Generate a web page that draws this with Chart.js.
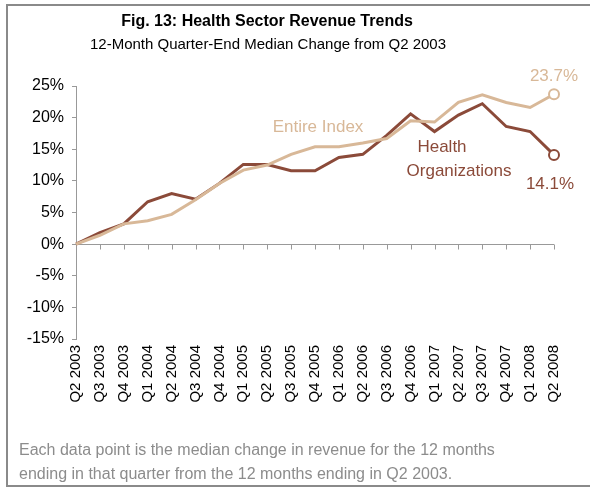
<!DOCTYPE html>
<html>
<head>
<meta charset="utf-8">
<script src="https://cdn.jsdelivr.net/npm/chart.js@4"></script>
<style>
  html, body { margin: 0; padding: 0; background: #fff; }
  #wrap { width: 590px; height: 487px; position: relative; }
</style>
</head>
<body>
<div id="wrap"><canvas id="chart"></canvas></div>
<script>
const quarters = ["Q2 2003", "Q3 2003", "Q4 2003", "Q1 2004", "Q2 2004", "Q3 2004", "Q4 2004",
  "Q1 2005", "Q2 2005", "Q3 2005", "Q4 2005", "Q1 2006", "Q2 2006", "Q3 2006", "Q4 2006",
  "Q1 2007", "Q2 2007", "Q3 2007", "Q4 2007", "Q1 2008", "Q2 2008"];
const healthOrgs = [0, 1.8, 3.2, 6.7, 8.0, 7.1, 9.6, 12.6, 12.6, 11.6, 11.6, 13.7, 14.2, 17.2, 20.6, 17.8, 20.4, 22.2, 18.6, 17.8, 14.1];
const entireIndex = [0, 1.4, 3.2, 3.7, 4.7, 7.0, 9.6, 11.7, 12.5, 14.2, 15.4, 15.4, 16.0, 16.7, 19.5, 19.3, 22.4, 23.6, 22.4, 21.6, 23.7];
const yTicks = [-15, -10, -5, 0, 5, 10, 15, 20, 25];

const brown = "#8b4a39";
const tan = "#d8b898";
const axisGray = "#999999";
const font = "'Liberation Sans', Arial, sans-serif";

function endPoints(arr) {
  return arr.map((v, i) => i === arr.length - 1 ? 5 : 0);
}

const decor = {
  id: "decor",
  beforeDraw(chart) {
    const ctx = chart.ctx;
    ctx.save();
    ctx.fillStyle = "#fff";
    ctx.fillRect(0, 0, chart.width, chart.height);
    ctx.strokeStyle = "#8a8a8a";
    ctx.lineWidth = 2;
    ctx.beginPath();
    ctx.moveTo(7, 487);
    ctx.lineTo(7, 5);
    ctx.lineTo(590, 5);
    ctx.moveTo(7, 486);
    ctx.lineTo(590, 486);
    ctx.stroke();

    ctx.fillStyle = "#000";
    ctx.textAlign = "center";
    ctx.textBaseline = "middle";
    ctx.font = "bold 16px " + font;
    ctx.fillText("Fig. 13: Health Sector Revenue Trends", 267, 22);
    ctx.font = "15px " + font;
    ctx.fillText("12-Month Quarter-End Median Change from Q2 2003", 268, 45);

    ctx.fillStyle = "#8c8c8c";
    ctx.textAlign = "left";
    ctx.font = "16px " + font;
    ctx.fillText("Each data point is the median change in revenue for the 12 months", 19, 451);
    ctx.fillText("ending in that quarter from the 12 months ending in Q2 2003.", 19, 475);
    ctx.restore();
  },
  beforeDatasetsDraw(chart) {
    const ctx = chart.ctx;
    const x = chart.scales.x, y = chart.scales.y;
    const y0 = Math.round(y.getPixelForValue(0)) + 0.5;
    ctx.save();
    ctx.strokeStyle = axisGray;
    ctx.lineWidth = 1;
    ctx.beginPath();
    ctx.moveTo(chart.chartArea.left, y0);
    ctx.lineTo(x.getPixelForValue(quarters.length - 1), y0);
    quarters.forEach((q, i) => {
      const px = Math.round(x.getPixelForValue(i)) + 0.5;
      ctx.moveTo(px, y0);
      ctx.lineTo(px, y0 + 5);
    });
    ctx.stroke();
    ctx.restore();
  },
  afterDatasetsDraw(chart) {
    const ctx = chart.ctx;
    const x = chart.scales.x, y = chart.scales.y;
    const last = quarters.length - 1;
    ctx.save();
    ctx.font = "17px " + font;
    ctx.textBaseline = "middle";
    ctx.textAlign = "center";
    ctx.fillStyle = tan;
    ctx.fillText("Entire Index", 318, 127);
    ctx.fillText(entireIndex[last].toFixed(1) + "%", x.getPixelForValue(last), y.getPixelForValue(entireIndex[last]) - 18);
    ctx.fillStyle = brown;
    ctx.fillText("Health", 442, 147);
    ctx.fillText("Organizations", 459, 171);
    ctx.fillText(healthOrgs[last].toFixed(1) + "%", 550, y.getPixelForValue(healthOrgs[last]) + 29);
    ctx.restore();
  }
};

new Chart(document.getElementById("chart"), {
  type: "line",
  data: {
    labels: quarters,
    datasets: [{
      label: "Entire Index",
      data: entireIndex,
      borderColor: tan,
      backgroundColor: "#fff",
      borderWidth: 3,
      pointRadius: endPoints(entireIndex),
      pointBorderWidth: 2,
      pointBackgroundColor: "#fff",
      pointBorderColor: tan,
      tension: 0
    }, {
      label: "Health Organizations",
      data: healthOrgs,
      borderColor: brown,
      backgroundColor: "#fff",
      borderWidth: 3,
      pointRadius: endPoints(healthOrgs),
      pointBorderWidth: 2,
      pointBackgroundColor: "#fff",
      pointBorderColor: brown,
      tension: 0
    }]
  },
  options: {
    responsive: true,
    maintainAspectRatio: false,
    animation: false,
    layout: { padding: { left: 0, top: 86, right: 36, bottom: 0 } },
    plugins: {
      legend: { display: false },
      tooltip: { enabled: false },
      title: { display: false }
    },
    scales: {
      x: {
        offset: false,
        grid: { display: false, drawTicks: false },
        border: { display: false },
        ticks: {
          autoSkip: false,
          minRotation: 90,
          maxRotation: 90,
          padding: 6,
          color: "#000",
          font: { family: font, size: 15 }
        },
        afterFit: s => { s.height = 487 - 86 - 253; }
      },
      y: {
        min: -15,
        max: 25,
        afterBuildTicks: s => { s.ticks = yTicks.map(v => ({ value: v })); },
        grid: { drawOnChartArea: false, drawTicks: true, tickLength: 4, color: axisGray },
        border: { display: true, color: axisGray, width: 1 },
        ticks: {
          padding: 8,
          color: "#000",
          font: { family: font, size: 16 },
          callback: v => v + "%"
        },
        afterFit: s => { s.width = 76; }
      }
    }
  },
  plugins: [decor]
});
</script>
</body>
</html>
